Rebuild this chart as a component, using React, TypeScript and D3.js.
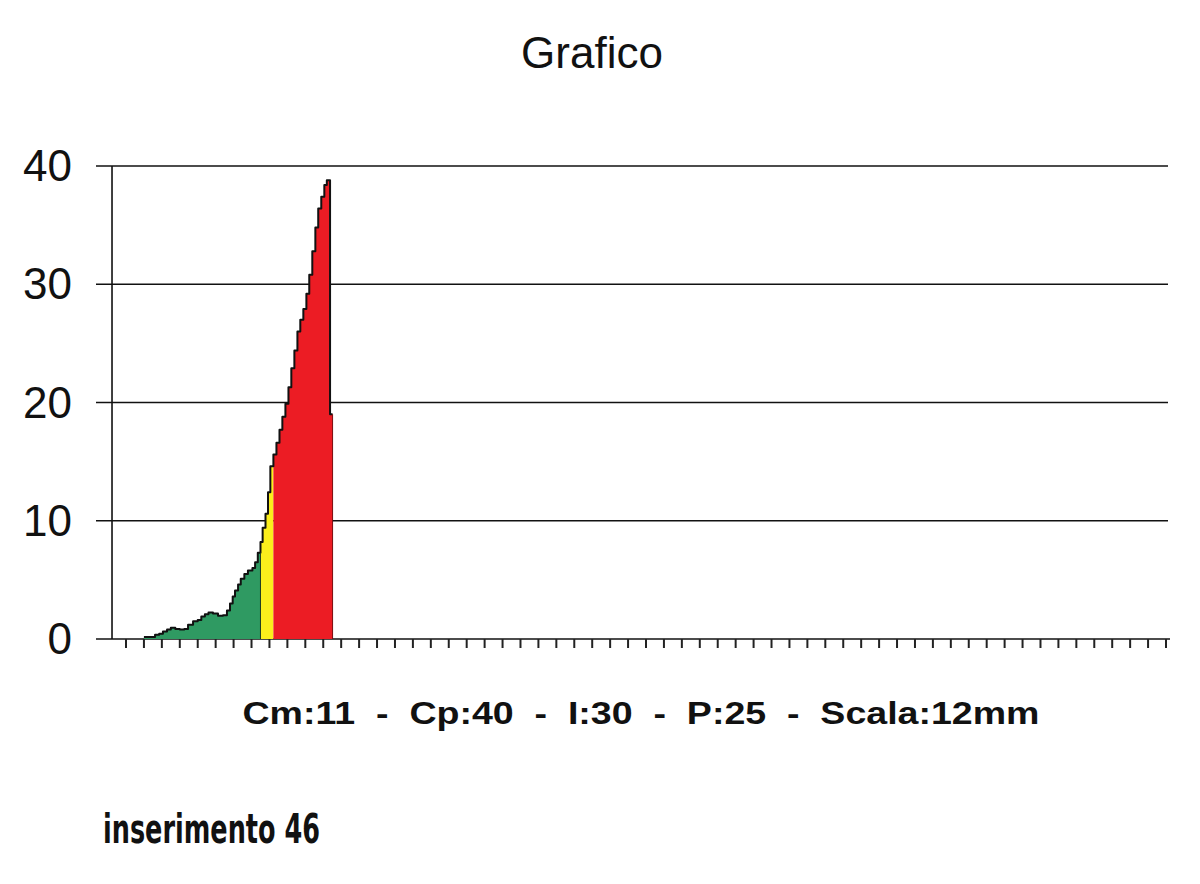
import React from "react";
import * as d3 from "d3";

// x positions (tick units) where each step begins, and its value
const stepStarts = [1.0, 1.3, 1.62, 1.85, 2.06, 2.29, 2.5, 2.75, 3.0, 3.25, 3.46, 3.74, 4.0, 4.2, 4.4, 4.6, 4.85, 5.13, 5.41, 5.63, 5.8, 5.95, 6.08, 6.25, 6.4, 6.6, 6.8, 7.05, 7.2, 7.35, 7.5, 7.62, 7.78, 7.92, 8.05, 8.22, 8.39, 8.56, 8.72, 8.89, 9.06, 9.22, 9.39, 9.56, 9.72, 9.89, 10.06, 10.22, 10.39, 10.56, 10.72, 10.89, 11.06, 11.2, 11.38];
const stepValues = [0.17, 0.17, 0.36, 0.45, 0.64, 0.8, 0.95, 0.85, 0.8, 0.85, 1.2, 1.5, 1.6, 1.9, 2.1, 2.25, 2.15, 1.97, 2.0, 2.4, 3.0, 3.6, 4.1, 4.6, 5.1, 5.5, 5.8, 6.0, 6.5, 7.3, 8.2, 9.4, 10.6, 12.4, 14.6, 15.6, 16.6, 17.7, 18.8, 19.9, 21.3, 22.9, 24.4, 26.0, 27.0, 27.9, 29.2, 30.8, 32.8, 34.8, 36.4, 37.4, 38.4, 38.8, 19.0];
const seriesEnd = 11.52;
const zoneBounds = [1.0, 7.5, 8.22, 11.52]; // green | yellow | red
const zoneColors = ["#2f9a62", "#fbee1c", "#ec1c24"];
const yTicks = [0, 10, 20, 30, 40];
const xTickCount = 59;
const title = "Grafico";
const footer = "Cm:11  -  Cp:40  -  I:30  -  P:25  -  Scala:12mm";
const note = "inserimento 46";

export default function App() {
  const W = 1200, H = 884;
  const x = d3.scaleLinear().domain([0, 58]).range([126, 1166]);
  const y = d3.scaleLinear().domain([0, 40]).range([639, 166]);
  const axisX = x(-0.78);

  const pts = stepStarts.map((s, i) => ({ x: s, v: stepValues[i] }));
  pts.push({ x: seriesEnd, v: stepValues[stepValues.length - 1] });

  const zonePts = (a: number, b: number) => {
    const out: { x: number; v: number }[] = [];
    for (let i = 0; i < stepStarts.length; i++) {
      const s = stepStarts[i];
      if (s >= a - 1e-9 && s < b - 1e-9) out.push({ x: s, v: stepValues[i] });
    }
    const last = out[out.length - 1];
    out.push({ x: b, v: last.v });
    return out;
  };

  const area = d3
    .area<{ x: number; v: number }>()
    .x((d) => x(d.x))
    .y0(y(0))
    .y1((d) => y(d.v))
    .curve(d3.curveStepAfter);
  const line = d3
    .line<{ x: number; v: number }>()
    .x((d) => x(d.x))
    .y((d) => y(d.v))
    .curve(d3.curveStepAfter);

  const ticks = d3.range(xTickCount);
  const greenEndIdx = stepStarts.findIndex((s) => s >= zoneBounds[1]) - 1;

  return (
    <svg width={W} height={H} style={{ position: "absolute", left: 0, top: 0, background: "#fff" }}>
      <rect width={W} height={H} fill="#fff" />
      <text x={592} y={68} textAnchor="middle" fontFamily="Liberation Sans, Arial" fontSize={44} fill="#111">
        {title}
      </text>
      {yTicks.map((t) => (
        <g key={t}>
          <line x1={96} x2={t === 0 ? 1170 : 1168} y1={y(t)} y2={y(t)} stroke="#111" strokeWidth={1.6} />
          <text x={72} y={y(t) + 15} textAnchor="end" fontFamily="Liberation Sans, Arial" fontSize={44} fill="#111">
            {t}
          </text>
        </g>
      ))}
      {zoneBounds.slice(0, -1).map((a, i) => (
        <path key={i} d={area(zonePts(a, zoneBounds[i + 1])) || ""} fill={zoneColors[i]} />
      ))}
      <path d={line(pts) || ""} fill="none" stroke="#111" strokeWidth={2} strokeLinejoin="round" />
      <line x1={x(seriesEnd)} x2={x(seriesEnd)} y1={y(stepValues[stepValues.length - 1])} y2={y(0)} stroke="#7a0a0e" strokeWidth={1} />
      <line x1={x(zoneBounds[1])} x2={x(zoneBounds[1])} y1={y(stepValues[greenEndIdx])} y2={y(0)} stroke="#1e3a20" strokeWidth={1} />
      <line x1={axisX} x2={axisX} y1={y(40)} y2={y(0)} stroke="#111" strokeWidth={1.6} />
      {ticks.map((i) => (
        <line key={i} x1={x(i)} x2={x(i)} y1={y(0)} y2={y(0) + 9} stroke="#222" strokeWidth={2} />
      ))}
      <text x={641} y={724} textAnchor="middle" fontFamily="Liberation Sans, Arial" fontWeight="bold" fontSize={31} fill="#111" textLength={797} lengthAdjust="spacingAndGlyphs" style={{ whiteSpace: "pre" }}>
        {footer}
      </text>
      <text x={103} y={843} fontFamily="Liberation Sans Narrow, DejaVu Sans Condensed" fontWeight="bold" fontSize={40} fill="#111" textLength={217} lengthAdjust="spacingAndGlyphs">
        {note}
      </text>
    </svg>
  );
}
